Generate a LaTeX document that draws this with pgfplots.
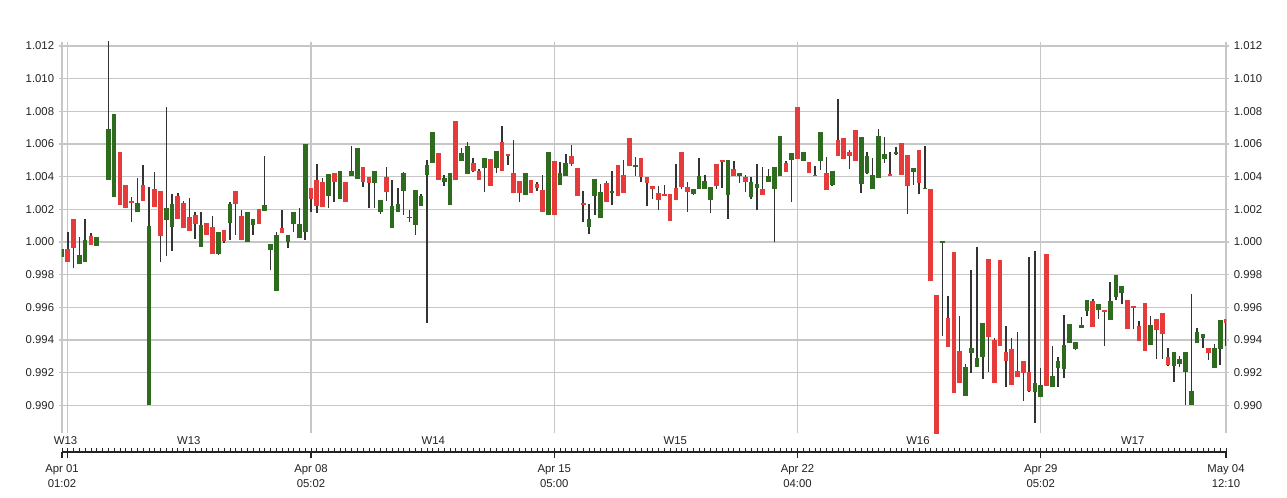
\documentclass[border=0pt]{standalone}
\usepackage{pgfplots}
\pgfplotsset{compat=1.18}
\usepackage{pgfplotstable}
\usepackage{fontspec}
\setmainfont{Liberation Sans}
\definecolor{cgreen}{HTML}{2E6B1E}
\definecolor{cred}{HTML}{E63B3B}
\definecolor{cwick}{HTML}{333333}
\definecolor{cgrid}{HTML}{C6C6C6}
\definecolor{ctext}{HTML}{222222}

\pgfplotstableread{
x lo bot top hi
0 0.99906 0.99906 0.99959 0.99959
3 0.99863 0.99863 0.99920 1.00029
4 0.99876 0.99876 1.00010 1.00139
6 0.99976 0.99976 1.00031 1.00031
8 1.00382 1.00382 1.00692 1.01250
9 1.00273 1.00273 1.00786 1.00786
13 1.00182 1.00182 1.00239 1.00392
15 0.99000 0.99000 1.00098 1.00339
18 0.99916 1.00135 1.00208 1.00829
19 0.99945 1.00092 1.00233 1.00292
24 0.99971 0.99971 1.00102 1.00184
27 0.99920 0.99927 1.00061 1.00061
29 1.00012 1.00116 1.00235 1.00243
32 1.00000 1.00000 1.00182 1.00182
33 1.00043 1.00104 1.00143 1.00143
35 1.00188 1.00188 1.00227 1.00524
36 0.99829 0.99951 0.99988 0.99988
37 0.99700 0.99700 1.00043 1.00059
39 0.99961 1.00002 1.00041 1.00041
40 1.00063 1.00108 1.00182 1.00182
41 1.00022 1.00022 1.00108 1.00206
42 1.00012 1.00063 1.00600 1.00600
46 1.00206 1.00284 1.00418 1.00418
48 1.00263 1.00263 1.00433 1.00433
50 1.00406 1.00406 1.00435 1.00588
51 1.00386 1.00386 1.00576 1.00576
54 1.00210 1.00363 1.00433 1.00433
55 1.00169 1.00182 1.00259 1.00259
57 1.00086 1.00086 1.00218 1.00382
58 1.00186 1.00186 1.00233 1.00331
59 1.00165 1.00314 1.00424 1.00431
60 1.00124 1.00147 1.00151 1.00198
61 1.00043 1.00102 1.00320 1.00320
62 1.00218 1.00218 1.00282 1.00296
63 0.99506 1.00410 1.00469 1.00502
64 1.00484 1.00484 1.00673 1.00673
66 1.00345 1.00367 1.00390 1.00408
67 1.00224 1.00224 1.00420 1.00420
69 1.00498 1.00498 1.00547 1.00573
70 1.00416 1.00416 1.00588 1.00610
73 1.00304 1.00455 1.00512 1.00512
75 1.00420 1.00455 1.00559 1.00559
80 1.00286 1.00286 1.00422 1.00422
84 1.00163 1.00163 1.00549 1.00549
86 1.00351 1.00351 1.00424 1.00492
87 1.00406 1.00406 1.00482 1.00539
91 1.00047 1.00094 1.00141 1.00231
92 1.00165 1.00284 1.00384 1.00384
93 1.00145 1.00145 1.00304 1.00353
95 1.00229 1.00298 1.00314 1.00435
99 1.00404 1.00457 1.00473 1.00520
109 1.00286 1.00296 1.00324 1.00324
110 1.00324 1.00324 1.00402 1.00514
111 1.00322 1.00322 1.00373 1.00410
112 1.00176 1.00255 1.00337 1.00337
115 1.00143 1.00286 1.00500 1.00500
117 1.00361 1.00404 1.00420 1.00420
119 1.00261 1.00278 1.00367 1.00398
120 1.00194 1.00331 1.00353 1.00478
122 1.00367 1.00367 1.00402 1.00445
123 0.99998 1.00322 1.00459 1.00459
124 1.00402 1.00402 1.00649 1.00649
126 1.00247 1.00502 1.00543 1.00543
128 1.00498 1.00498 1.00549 1.00549
131 1.00443 1.00496 1.00676 1.00676
133 1.00345 1.00349 1.00433 1.00433
138 1.00300 1.00355 1.00643 1.00643
139 1.00416 1.00424 1.00527 1.00551
140 1.00327 1.00327 1.00410 1.00512
141 1.00392 1.00392 1.00647 1.00692
142 1.00486 1.00506 1.00539 1.00645
144 1.00531 1.00541 1.00551 1.00584
147 1.00351 1.00431 1.00453 1.00453
149 1.00322 1.00322 1.00329 1.00590
152 0.99424 0.99996 1.00000 1.00000
156 0.99059 0.99059 0.99237 0.99251
157 0.99200 0.99318 0.99349 0.99831
158 0.99237 0.99237 0.99288 0.99971
159 0.99161 0.99296 0.99502 0.99502
168 0.98894 0.99080 0.99135 0.99947
169 0.99049 0.99049 0.99122 0.99231
171 0.99110 0.99110 0.99182 0.99363
172 0.99114 0.99227 0.99271 0.99296
173 0.99169 0.99220 0.99369 0.99553
174 0.99380 0.99380 0.99496 0.99496
175 0.99339 0.99345 0.99386 0.99386
176 0.99473 0.99473 0.99492 0.99541
177 0.99549 0.99580 0.99647 0.99647
179 0.99529 0.99582 0.99618 0.99618
181 0.99520 0.99520 0.99639 0.99757
182 0.99645 0.99665 0.99798 0.99798
183 0.99618 0.99690 0.99733 0.99733
188 0.99369 0.99369 0.99490 0.99545
192 0.99145 0.99241 0.99327 0.99327
193 0.99233 0.99255 0.99284 0.99300
194 0.99002 0.99206 0.99327 0.99327
195 0.99002 0.99002 0.99090 0.99680
196 0.99380 0.99380 0.99447 0.99476
197 0.99349 0.99412 0.99437 0.99437
199 0.99227 0.99227 0.99349 0.99373
200 0.99247 0.99343 0.99524 0.99524
}\greentab

\pgfplotstableread{
x lo bot top hi
1 0.99880 0.99880 0.99957 1.00063
2 0.99839 0.99965 1.00139 1.00139
5 0.99982 0.99982 1.00035 1.00053
10 1.00229 1.00229 1.00553 1.00553
11 1.00210 1.00210 1.00347 1.00347
12 1.00124 1.00237 1.00249 1.00273
14 1.00253 1.00253 1.00347 1.00469
16 1.00214 1.00214 1.00324 1.00431
17 0.99878 1.00039 1.00310 1.00310
20 1.00143 1.00143 1.00282 1.00298
21 1.00084 1.00084 1.00239 1.00251
22 1.00065 1.00065 1.00155 1.00269
23 1.00020 1.00112 1.00163 1.00184
25 1.00043 1.00043 1.00114 1.00114
26 0.99927 0.99927 1.00090 1.00159
28 0.99996 1.00008 1.00073 1.00073
30 1.00043 1.00231 1.00310 1.00310
31 1.00010 1.00010 1.00159 1.00196
34 1.00112 1.00112 1.00200 1.00200
38 1.00057 1.00057 1.00086 1.00194
43 1.00186 1.00263 1.00329 1.00329
44 1.00180 1.00222 1.00382 1.00476
45 1.00212 1.00212 1.00367 1.00390
47 1.00247 1.00365 1.00420 1.00420
49 1.00247 1.00247 1.00369 1.00369
52 1.00339 1.00367 1.00457 1.00457
53 1.00210 1.00363 1.00396 1.00396
56 1.00253 1.00308 1.00400 1.00457
65 1.00378 1.00378 1.00543 1.00543
68 1.00378 1.00378 1.00743 1.00743
71 1.00431 1.00435 1.00484 1.00514
72 1.00380 1.00380 1.00433 1.00445
74 1.00343 1.00343 1.00510 1.00510
76 1.00437 1.00437 1.00610 1.00708
77 1.00471 1.00524 1.00539 1.00539
78 1.00298 1.00298 1.00422 1.00624
79 1.00247 1.00302 1.00376 1.00376
81 1.00298 1.00298 1.00380 1.00380
82 1.00314 1.00329 1.00353 1.00369
83 1.00186 1.00186 1.00318 1.00410
85 1.00165 1.00165 1.00498 1.00498
88 1.00467 1.00480 1.00529 1.00592
89 1.00284 1.00284 1.00451 1.00451
90 1.00124 1.00227 1.00239 1.00312
94 1.00247 1.00247 1.00361 1.00376
96 1.00282 1.00282 1.00469 1.00469
97 1.00302 1.00302 1.00408 1.00500
98 1.00463 1.00463 1.00635 1.00635
100 1.00369 1.00396 1.00512 1.00512
101 1.00222 1.00363 1.00398 1.00398
102 1.00261 1.00324 1.00345 1.00345
103 1.00198 1.00259 1.00300 1.00345
104 1.00282 1.00284 1.00288 1.00351
105 1.00129 1.00129 1.00292 1.00292
106 1.00259 1.00259 1.00329 1.00478
107 1.00322 1.00339 1.00549 1.00549
108 1.00186 1.00308 1.00339 1.00367
113 1.00324 1.00343 1.00480 1.00480
114 1.00333 1.00492 1.00500 1.00500
116 1.00402 1.00402 1.00445 1.00498
118 1.00304 1.00369 1.00400 1.00410
121 1.00290 1.00290 1.00324 1.00459
125 1.00427 1.00427 1.00484 1.00496
127 1.00506 1.00506 1.00829 1.00829
129 1.00422 1.00422 1.00488 1.00488
130 1.00402 1.00402 1.00406 1.00465
132 1.00318 1.00318 1.00424 1.00520
134 1.00529 1.00529 1.00622 1.00873
135 1.00506 1.00506 1.00637 1.00637
136 1.00445 1.00529 1.00551 1.00563
137 1.00498 1.00498 1.00686 1.00686
143 1.00406 1.00406 1.00414 1.00551
145 1.00410 1.00410 1.00608 1.00608
146 1.00173 1.00345 1.00533 1.00533
148 1.00294 1.00359 1.00565 1.00565
150 0.99761 0.99761 1.00322 1.00322
151 0.98700 0.98700 0.99676 0.99676
153 0.99355 0.99355 0.99537 0.99667
154 0.99073 0.99073 0.99939 0.99939
155 0.99135 0.99135 0.99335 0.99549
160 0.99206 0.99420 0.99898 0.99898
161 0.99135 0.99135 0.99402 0.99410
162 0.99365 0.99365 0.99892 0.99892
163 0.99110 0.99269 0.99324 0.99486
164 0.99124 0.99124 0.99343 0.99410
165 0.99171 0.99171 0.99208 0.99447
166 0.99027 0.99196 0.99269 0.99269
167 0.99084 0.99090 0.99202 0.99908
170 0.99120 0.99120 0.99929 0.99929
178 0.99480 0.99480 0.99637 0.99653
180 0.99365 0.99573 0.99578 0.99578
184 0.99467 0.99467 0.99643 0.99643
185 0.99465 0.99594 0.99610 0.99610
186 0.99394 0.99394 0.99486 0.99516
187 0.99333 0.99333 0.99629 0.99629
189 0.99282 0.99463 0.99531 0.99531
190 0.99282 0.99435 0.99565 0.99565
191 0.99243 0.99247 0.99298 0.99353
198 0.99278 0.99318 0.99349 0.99349
201 0.99363 0.99502 0.99531 0.99531
}\redtab

\newcommand{\lblfont}{\fontsize{8.5}{11}\selectfont}

\begin{document}
\begin{tikzpicture}
\useasboundingbox (-46.5pt,-48pt) rectangle (918.75pt,324.75pt);

% main candlestick panel
\begin{axis}[
  at={(0,0)}, anchor=south west, scale only axis,
  width=873pt, height=293.25pt,
  xmin=0, xmax=201, ymin=0.98831, ymax=1.01224,
  axis line style={draw=none},
  xtick={0,1,43,85,127,169,201}, xticklabels={},
  x tick style={draw=none},
  ytick={0.990,0.992,0.994,0.996,0.998,1.000,1.002,1.004,1.006,1.008,1.010,1.012},
  yticklabels={0.990,0.992,0.994,0.996,0.998,1.000,1.002,1.004,1.006,1.008,1.010,1.012},
  yticklabel style={font=\lblfont, text=ctext},
  y tick style={cgrid, line width=0.9pt},
  tick align=outside, major tick length=2.4pt,
  xmajorgrids, ymajorgrids,
  major grid style={cgrid, line width=0.9pt},
  candle/.style={draw=none, no marks, error bars/.cd, y dir=plus, y explicit, error mark=none},
]
\addplot[candle, error bar style={draw=cwick, line width=1.1pt}]
  table[x=x, y=lo, y error plus expr=\thisrow{hi}-\thisrow{lo}] \greentab;
\addplot[candle, error bar style={draw=cwick, line width=1.1pt}]
  table[x=x, y=lo, y error plus expr=\thisrow{hi}-\thisrow{lo}] \redtab;
\addplot[candle, error bar style={draw=cgreen, line width=3.5pt}]
  table[x=x, y=bot, y error plus expr={max(\thisrow{top}-\thisrow{bot},0.00008)}] \greentab;
\addplot[candle, error bar style={draw=cred, line width=3.5pt}]
  table[x=x, y=bot, y error plus expr={max(\thisrow{top}-\thisrow{bot},0.00008)}] \redtab;
\node[anchor=east, font=\fontsize{9.5}{11}\selectfont, text=ctext] at (rel axis cs:1,1) [xshift=-6.5pt, yshift=11.6pt] {2019-04-01 01:02:34 / 2019-05-04 12:10:04};
\end{axis}

% right-hand tick labels
\begin{axis}[
  at={(0,0)}, anchor=south west, scale only axis,
  width=873pt, height=293.25pt,
  xmin=0, xmax=201, ymin=0.98831, ymax=1.01224,
  hide x axis, axis y line*=right,
  y axis line style={draw=none},
  ytick={0.990,0.992,0.994,0.996,0.998,1.000,1.002,1.004,1.006,1.008,1.010,1.012},
  yticklabels={0.990,0.992,0.994,0.996,0.998,1.000,1.002,1.004,1.006,1.008,1.010,1.012},
  yticklabel style={font=\lblfont, text=ctext},
  y tick style={cgrid, line width=0.9pt},
  tick align=outside, major tick length=2.4pt,
]
\end{axis}

% time line below the panel
\begin{axis}[
  at={(0,-14.25pt)}, anchor=south west, scale only axis,
  width=873pt, height=12pt,
  xmin=0, xmax=201, ymin=0, ymax=1,
  hide y axis, axis x line*=bottom,
  x axis line style={ctext, line width=0.9pt, -},
  clip=false,
  xtick={0,1,43,85,127,169,201},
  xticklabels={{Apr 01\\01:02},{},{Apr 08\\05:02},{Apr 15\\05:00},{Apr 22\\04:00},{Apr 29\\05:02},{May 04\\12:10}},
  xticklabel style={align=center, font=\lblfont, text=ctext, yshift=-1.5pt},
  minor xtick={0,1,...,201},
  tick align=outside, major tick length=4.5pt, minor tick length=3pt,
  major x tick style={ctext, line width=0.8pt},
  minor x tick style={ctext, line width=0.5pt, yshift=3pt},
]
\node[font=\lblfont, text=ctext] at (axis cs:0.6,0) [yshift=8.25pt] {W13};
\node[font=\lblfont, text=ctext] at (axis cs:21.9,0) [yshift=8.25pt] {W13};
\node[font=\lblfont, text=ctext] at (axis cs:64.1,0) [yshift=8.25pt] {W14};
\node[font=\lblfont, text=ctext] at (axis cs:105.9,0) [yshift=8.25pt] {W15};
\node[font=\lblfont, text=ctext] at (axis cs:147.8,0) [yshift=8.25pt] {W16};
\node[font=\lblfont, text=ctext] at (axis cs:184.9,0) [yshift=8.25pt] {W17};
\end{axis}
\end{tikzpicture}
\end{document}
